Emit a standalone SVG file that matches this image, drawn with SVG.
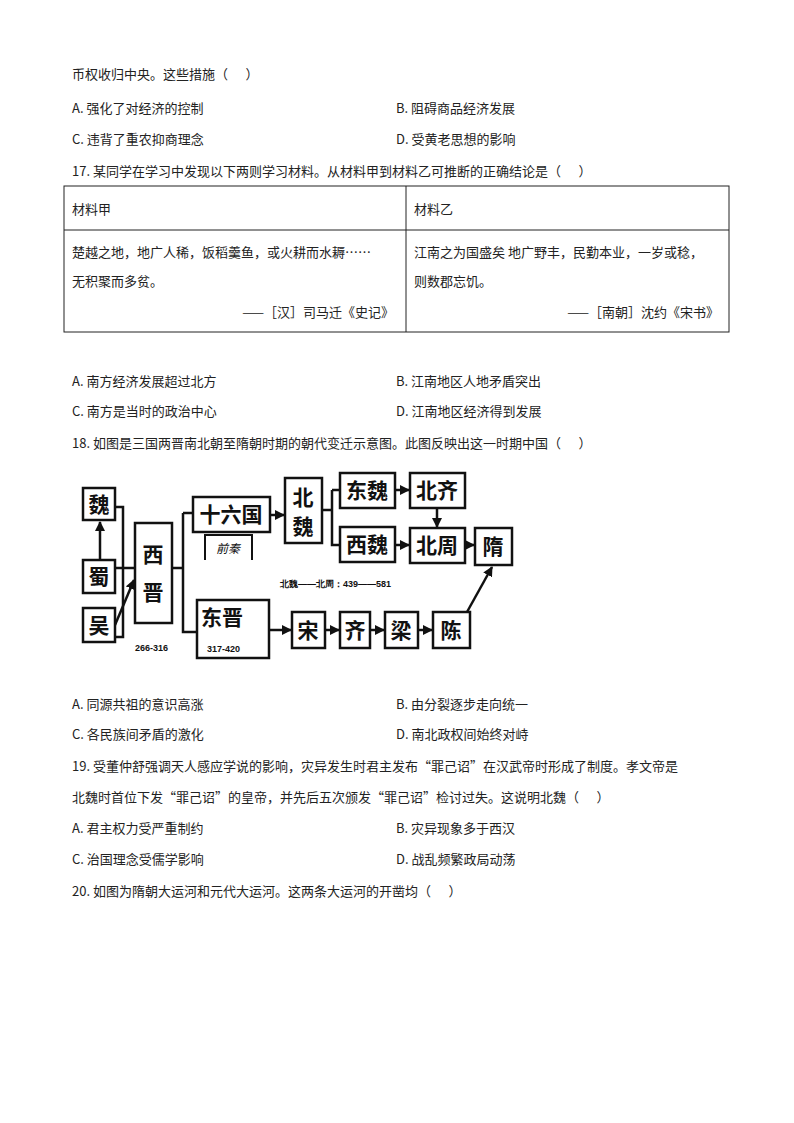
<svg xmlns="http://www.w3.org/2000/svg" width="794" height="1123" viewBox="0 0 794 1123">
<defs>
<style>
.t{font-family:"Noto Sans CJK SC","Liberation Sans",sans-serif;font-size:13px;fill:#222}
.b{fill:#fff;stroke:#111;stroke-width:2.5}
.l{fill:none;stroke:#111;stroke-width:2.5}
.d{font-family:"Noto Sans CJK SC",sans-serif;font-size:21px;font-weight:bold;fill:#111;text-anchor:middle}
.n{font-family:"Liberation Sans",sans-serif;font-size:9px;font-weight:bold;fill:#111}
</style>
<marker id="a" viewBox="0 0 10 10" refX="9" refY="5" markerWidth="4" markerHeight="4" orient="auto"><path d="M0,0L10,5L0,10z" fill="#111"/></marker>
</defs>
<rect width="794" height="1123" fill="#fff"/>
<g id="text">
<text class="t" x="72" y="79">币权收归中央。这些措施（&#160;&#160;&#160;&#160;&#160;&#160;）</text>
<text class="t" x="72" y="113">A. 强化了对经济的控制</text>
<text class="t" x="396" y="113">B. 阻碍商品经济发展</text>
<text class="t" x="72" y="144">C. 违背了重农抑商理念</text>
<text class="t" x="396" y="144">D. 受黄老思想的影响</text>
<text class="t" x="72" y="176">17. 某同学在学习中发现以下两则学习材料。从材料甲到材料乙可推断的正确结论是（&#160;&#160;&#160;&#160;&#160;&#160;）</text>
<text class="t" x="72" y="386">A. 南方经济发展超过北方</text>
<text class="t" x="396" y="386">B. 江南地区人地矛盾突出</text>
<text class="t" x="72" y="416">C. 南方是当时的政治中心</text>
<text class="t" x="396" y="416">D. 江南地区经济得到发展</text>
<text class="t" x="72" y="448">18. 如图是三国两晋南北朝至隋朝时期的朝代变迁示意图。此图反映出这一时期中国（&#160;&#160;&#160;&#160;&#160;&#160;）</text>
<text class="t" x="72" y="709">A. 同源共祖的意识高涨</text>
<text class="t" x="396" y="709">B. 由分裂逐步走向统一</text>
<text class="t" x="72" y="739">C. 各民族间矛盾的激化</text>
<text class="t" x="396" y="739">D. 南北政权间始终对峙</text>
<text class="t" x="72" y="771">19. 受董仲舒强调天人感应学说的影响，灾异发生时君主发布“罪己诏”在汉武帝时形成了制度。孝文帝是</text>
<text class="t" x="72" y="802">北魏时首位下发“罪己诏”的皇帝，并先后五次颁发“罪己诏”检讨过失。这说明北魏（&#160;&#160;&#160;&#160;&#160;&#160;）</text>
<text class="t" x="72" y="833">A. 君主权力受严重制约</text>
<text class="t" x="396" y="833">B. 灾异现象多于西汉</text>
<text class="t" x="72" y="864">C. 治国理念受儒学影响</text>
<text class="t" x="396" y="864">D. 战乱频繁政局动荡</text>
<text class="t" x="72" y="896">20. 如图为隋朝大运河和元代大运河。这两条大运河的开凿均（&#160;&#160;&#160;&#160;&#160;&#160;）</text>
</g>
<g id="table">
<rect x="64" y="186" width="665" height="146" fill="none" stroke="#222" stroke-width="1"/>
<line x1="64" y1="230" x2="729" y2="230" stroke="#222"/>
<line x1="406" y1="186" x2="406" y2="332" stroke="#222"/>
<text class="t" x="72" y="214">材料甲</text>
<text class="t" x="414" y="214">材料乙</text>
<text class="t" x="72" y="257">楚越之地，地广人稀，饭稻羹鱼，或火耕而水耨……</text>
<text class="t" x="72" y="286">无积聚而多贫。</text>
<text class="t" x="394" y="317" text-anchor="end">——［汉］司马迁《史记》</text>
<text class="t" x="414" y="257">江南之为国盛矣 地广野丰，民勤本业，一岁或稔，</text>
<text class="t" x="414" y="286">则数郡忘饥。</text>
<text class="t" x="719" y="317" text-anchor="end">——［南朝］沈约《宋书》</text>
</g>
<g id="connectors">
<path class="l" d="M100,560V522" marker-end="url(#a)"/>
<path class="l" d="M115,507H123V637H115M115,568H135"/>
<path class="l" d="M115,625L134,580" marker-end="url(#a)"/>
<path class="l" d="M172,568H183M183,513V632H197M183,513H193"/>
<path class="l" d="M270,515H284" marker-end="url(#a)"/>
<path class="l" d="M322,510H332M332,490V545H340M332,490H340"/>
<path class="l" d="M395,490H409" marker-end="url(#a)"/>
<path class="l" d="M437,508V527" marker-end="url(#a)"/>
<path class="l" d="M395,545H409" marker-end="url(#a)"/>
<path class="l" d="M465,545H474" marker-end="url(#a)"/>
<path class="l" d="M269,630H291" marker-end="url(#a)"/>
<path class="l" d="M325,630H339" marker-end="url(#a)"/>
<path class="l" d="M370,630H384" marker-end="url(#a)"/>
<path class="l" d="M418,630H432" marker-end="url(#a)"/>
<path class="l" d="M467,612L492,567" marker-end="url(#a)"/>
</g>
<g id="wei"><rect class="b" x="83" y="488" width="32" height="32"/><text class="d" x="99" y="512">魏</text></g>
<g id="shu"><rect class="b" x="83" y="560" width="32" height="33"/><text class="d" x="99" y="584">蜀</text></g>
<g id="wu"><rect class="b" x="83" y="608" width="32" height="34"/><text class="d" x="99" y="633">吴</text></g>
<g id="xijin"><rect class="b" x="135" y="523" width="37" height="100"/><text class="d" x="153" y="562">西</text><text class="d" x="153" y="600">晋</text></g>
<g id="shiliuguo"><rect class="b" x="193" y="497" width="77" height="35"/><text class="d" x="231" y="522">十六国</text></g>
<g id="qianqin"><path d="M205,560V535H252V560" fill="none" stroke="#111" stroke-width="2"/><text x="228" y="553" text-anchor="middle" style="font-family:'Noto Sans CJK SC',serif;font-size:12px;font-style:italic;fill:#111">前秦</text></g>
<g id="dongjin"><rect class="b" x="197" y="600" width="72" height="58"/><text class="d" x="222" y="625">东晋</text><text class="n" x="207" y="652">317-420</text></g>
<g id="beiwei"><rect class="b" x="285" y="478" width="37" height="65"/><text class="d" x="303" y="505">北</text><text class="d" x="303" y="534">魏</text></g>
<g id="dongwei"><rect class="b" x="340" y="473" width="55" height="35"/><text class="d" x="367" y="498">东魏</text></g>
<g id="xiwei"><rect class="b" x="340" y="527" width="55" height="35"/><text class="d" x="367" y="552">西魏</text></g>
<g id="beiqi"><rect class="b" x="410" y="473" width="55" height="35"/><text class="d" x="437" y="498">北齐</text></g>
<g id="beizhou"><rect class="b" x="410" y="528" width="55" height="35"/><text class="d" x="437" y="553">北周</text></g>
<g id="sui"><rect class="b" x="475" y="528" width="37" height="37"/><text class="d" x="493" y="554">隋</text></g>
<g id="song"><rect class="b" x="292" y="612" width="33" height="36"/><text class="d" x="308" y="638">宋</text></g>
<g id="qi"><rect class="b" x="340" y="612" width="30" height="36"/><text class="d" x="355" y="638">齐</text></g>
<g id="liang"><rect class="b" x="385" y="612" width="33" height="36"/><text class="d" x="401" y="638">梁</text></g>
<g id="chen"><rect class="b" x="433" y="612" width="37" height="36"/><text class="d" x="451" y="638">陈</text></g>
<text class="n" x="135" y="651">266-316</text>
<text class="n" x="280" y="587">北魏——北周：439——581</text>
</svg>
